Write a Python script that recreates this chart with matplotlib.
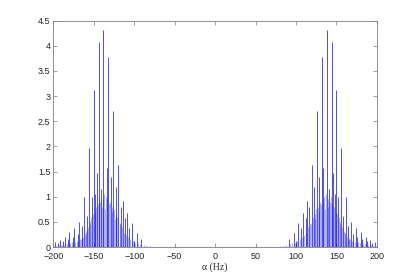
import numpy as np
import matplotlib
matplotlib.use("Agg")
import matplotlib.pyplot as plt

# ============================================================
# Datos (espectro simetrico, lado positivo)
# ============================================================
# lineas principales (separadas ~6 Hz)
f_major = [91, 97, 103, 109, 113.5, 119.6, 126, 132, 138, 144, 150, 156,
           162, 168, 174, 180, 186, 192, 198]
a_major = [0.16, 0.28, 0.47, 0.68, 0.92, 1.63, 2.70, 3.77, 4.32, 4.08, 3.13,
           1.96, 1.00, 0.50, 0.37, 0.30, 0.20, 0.13, 0.09]

# lineas secundarias
f_sec = [100, 106.5, 111.8, 116.7, 122.5, 129, 134, 141, 146, 148, 152.4,
         158, 164, 170, 176, 182, 188, 194]
a_sec = [0.12, 0.38, 0.58, 0.80, 1.20, 1.40, 1.57, 1.15, 1.47, 1.05, 1.00,
         0.62, 0.42, 0.26, 0.20, 0.15, 0.12, 0.08]

# relleno de lineas pequenas
f_small = [85, 88, 93, 95, 99, 101, 105, 107, 110, 112, 115, 117, 118, 121,
           123, 124, 125, 127, 128, 130, 131, 133, 135, 136, 137, 139, 140,
           142, 143, 145, 147, 149, 151, 153, 154, 155, 157, 159, 160, 161,
           163, 165, 166, 167, 169, 171, 173, 175, 177, 179, 181, 183, 185,
           187, 189, 191, 193, 195, 197, 199]
a_small = [0.03, 0.04, 0.06, 0.08, 0.07, 0.12, 0.16, 0.20, 0.24, 0.28, 0.40,
           0.45, 0.48, 0.60, 0.65, 0.55, 0.75, 0.80, 0.70, 0.90, 0.85, 0.95,
           1.00, 0.75, 1.05, 0.95, 0.80, 0.90, 1.00, 0.85, 0.80, 0.70, 0.65,
           0.60, 0.52, 0.45, 0.40, 0.32, 0.28, 0.25, 0.20, 0.18, 0.15, 0.16,
           0.12, 0.11, 0.10, 0.08, 0.09, 0.07, 0.07, 0.06, 0.06, 0.05, 0.05,
           0.04, 0.04, 0.03, 0.03, 0.03]

# pequenos picos aislados
f_tiny = [50, 80, 84]
a_tiny = [0.03, 0.02, 0.02]

noise_floor = 0.01

f_big = np.array(f_major + f_sec, dtype=float)
a_big = np.array(a_major + a_sec, dtype=float)
f_low = np.array(f_small + f_tiny, dtype=float)
a_low = np.array(a_small + a_tiny, dtype=float)

# ============================================================
# Grafico
# ============================================================
fig = plt.figure(figsize=(4.16, 2.76), dpi=100)
ax = fig.add_axes([0.128, 0.105, 0.778, 0.82])

azul = "#0000ff"
for signo in (-1, 1):
    ax.vlines(signo * f_low, 0, a_low, color=azul, linewidth=0.5, alpha=0.45)
    ax.vlines(signo * f_big, 0, a_big, color=azul, linewidth=0.7, alpha=0.7)
ax.axhline(noise_floor, color=azul, linewidth=0.8, alpha=0.6)

ax.set_xlim(-200, 200)
ax.set_ylim(0, 4.5)
ax.set_xticks(np.arange(-200, 201, 50))
ax.set_yticks(np.arange(0, 4.51, 0.5))
ax.set_yticklabels(["0", "0.5", "1", "1.5", "2", "2.5", "3", "3.5", "4", "4.5"])

gris = "#7f7f7f"
for s in ax.spines.values():
    s.set_color(gris)
    s.set_linewidth(0.6)
ax.tick_params(direction="in", length=3, width=0.5, color=gris,
               top=True, right=True, labelsize=6.5, labelcolor="#262626")
ax.tick_params(axis="x", pad=3.5)
ax.tick_params(axis="y", pad=2)
for lab in ax.get_xticklabels() + ax.get_yticklabels():
    lab.set_family("Liberation Sans")

ax.set_xlabel("\u03b1 (Hz)", family="Liberation Serif", fontsize=7,
              labelpad=1, color="#262626")

fig.savefig("out.png", dpi=100)
